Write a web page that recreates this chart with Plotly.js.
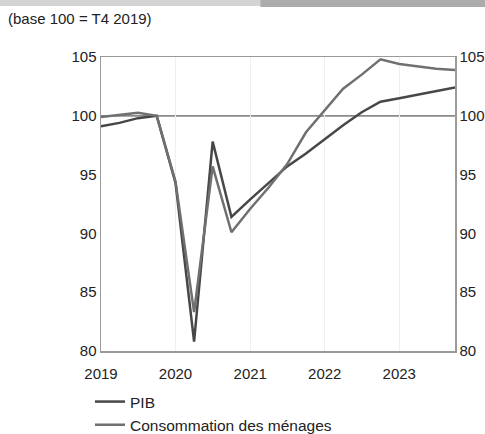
<!DOCTYPE html>
<html>
<head>
<meta charset="utf-8">
<script src="https://cdn.plot.ly/plotly-3.0.1.min.js"></script>
<style>html,body{margin:0;padding:0;background:#fff;}</style>
</head>
<body>
<div id="chart" style="width:485px;height:434px;"></div>
<script>
// Quarters T1 2019 .. T4 2023 (start-of-quarter dates)
const quarters = [
  '2019-01-01','2019-04-01','2019-07-01','2019-10-01',
  '2020-01-01','2020-04-01','2020-07-01','2020-10-01',
  '2021-01-01','2021-04-01','2021-07-01','2021-10-01',
  '2022-01-01','2022-04-01','2022-07-01','2022-10-01',
  '2023-01-01','2023-04-01','2023-07-01','2023-10-01'
];
const pib = [99.1, 99.4, 99.8, 100.0, 94.3, 80.8, 97.8, 91.4, 92.9, 94.3,
             95.7, 96.8, 98.0, 99.2, 100.3, 101.2, 101.5, 101.8, 102.1, 102.4];
const conso = [99.9, 100.1, 100.25, 100.0, 94.4, 83.3, 95.7, 90.1, 92.1, 93.9,
               95.9, 98.6, 100.5, 102.3, 103.5, 104.8, 104.4, 104.2, 104.0, 103.9];
const yTicks = [80, 85, 90, 95, 100, 105];
const seriesNames = ['PIB', 'Consommation des ménages'];
const titleText = '(base 100 = T4 2019)';
const baseValue = 100;

const FONT = 'Liberation Sans, Arial, sans-serif';

const traces = [
  {x: quarters, y: pib, name: seriesNames[0], type: 'scatter', mode: 'lines',
   line: {color: '#474747', width: 2.5}, legendgroup: 'a', hoverinfo: 'x+y'},
  {x: quarters, y: conso, name: seriesNames[1], type: 'scatter', mode: 'lines',
   line: {color: '#707070', width: 2.5}, legendgroup: 'b', hoverinfo: 'x+y'},
  {x: quarters, y: pib, yaxis: 'y2', type: 'scatter', mode: 'lines',
   line: {color: 'rgba(0,0,0,0)', width: 0}, showlegend: false, hoverinfo: 'skip'}
];

const axisFont = {family: FONT, size: 15, color: '#222'};

const layout = {
  width: 485, height: 434,
  margin: {l: 101, r: 30, t: 57, b: 83, autoexpand: false},
  paper_bgcolor: '#fff', plot_bgcolor: '#fff',
  showlegend: true,
  title: {text: titleText, x: 8/485, xanchor: 'left', xref: 'container',
          y: 1 - 19/434, yanchor: 'middle', yref: 'container',
          font: {family: FONT, size: 15, color: '#222'}},
  xaxis: {type: 'date', range: [quarters[0], quarters[quarters.length-1]],
          tick0: '2019-01-01', dtick: 'M12', tickformat: '%Y',
          showgrid: true, gridcolor: '#efefef', gridwidth: 1,
          showline: true, linecolor: '#9a9a9a', linewidth: 1.5, mirror: true,
          ticks: '', ticklabelstandoff: 8, tickfont: axisFont, zeroline: false},
  yaxis: {range: [80, 105], tickvals: yTicks, ticktext: yTicks.map(String),
          showgrid: false, zeroline: false, ticks: '',
          showline: true, linecolor: '#9a9a9a', linewidth: 1.5,
          tickfont: axisFont},
  yaxis2: {range: [80, 105], tickvals: yTicks, ticktext: yTicks.map(String),
           overlaying: 'y', side: 'right', showgrid: false, zeroline: false,
           ticks: '', showline: true, linecolor: '#9a9a9a', linewidth: 1.5,
           tickfont: axisFont},
  legend: {x: 90/485, xref: 'container', xanchor: 'left',
           y: 1 - 385/434, yref: 'container', yanchor: 'top',
           orientation: 'v', traceorder: 'grouped', tracegroupgap: 0,
           bgcolor: 'rgba(0,0,0,0)',
           font: {family: FONT, size: 15.5, color: '#222'}},
  shapes: [
    {type: 'line', xref: 'paper', x0: 0, x1: 1, yref: 'y', y0: baseValue, y1: baseValue,
     line: {color: '#8a8a8a', width: 1.8}, layer: 'below'},
    {type: 'rect', xref: 'paper', yref: 'paper', x0: -0.3, x1: 0.45,
     y0: (351-0)/294, y1: (351-6)/294, fillcolor: '#d4d4d4', line: {width: 0}},
    {type: 'rect', xref: 'paper', yref: 'paper', x0: 0.45, x1: 1.1,
     y0: (351-0)/294, y1: (351-7)/294, fillcolor: '#acacac', line: {width: 0}}
  ]
};

Plotly.newPlot('chart', traces, layout, {displayModeBar: false, staticPlot: true});
</script>
</body>
</html>
